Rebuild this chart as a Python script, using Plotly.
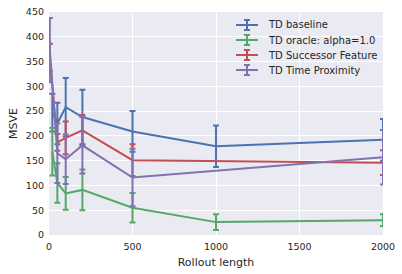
import plotly.graph_objects as go

# Rollout lengths for each method
x_baseline = [20, 50, 100, 200, 500, 1000, 2000]
y_baseline = [247, 225, 258, 238, 209, 179, 192]
e_baseline = [38, 42, 59, 55, 41, 42, 42]

x_oracle = [20, 50, 100, 200, 500, 1000, 2000]
y_oracle = [168, 105, 84, 91, 55, 26, 30]
e_oracle = [48, 40, 33, 41, 30, 16, 12]

x_sf = [5, 50, 100, 200, 500, 2000]
y_sf = [359, 187, 196, 211, 151, 146]
e_sf = [27, 17, 33, 31, 32, 25]

x_tp = [5, 50, 100, 200, 500, 2000]
y_tp = [373, 165, 153, 181, 116, 157]
e_tp = [65, 60, 50, 57, 58, 55]

names = ["TD baseline", "TD oracle: alpha=1.0", "TD Successor Feature", "TD Time Proximity"]
colors = ["#4C72B0", "#55A868", "#C44E52", "#8172B2"]
series = [(x_baseline, y_baseline, e_baseline), (x_oracle, y_oracle, e_oracle),
          (x_sf, y_sf, e_sf), (x_tp, y_tp, e_tp)]

W, H = 402, 274
L, R, T, B = 49, 19, 12, 39
PW, PH = W - L - R, H - T - B

def px(x):
    return (x - L) / PW

def py(y):
    return (H - B - y) / PH

fig = go.Figure()
for (xs, ys, es), n, c in zip(series, names, colors):
    fig.add_trace(go.Scatter(
        x=xs, y=ys, name=n, mode="lines", showlegend=False, hoverinfo="skip",
        line=dict(color=c, width=2),
        error_y=dict(type="data", array=es, visible=True, color=c, thickness=2, width=3),
    ))

font_color = "#262626"

# manual legend (matplotlib style, with error-bar glyph)
shapes, annotations = [], []
for i, (n, c) in enumerate(zip(names, colors)):
    yy = 25 + 15 * i
    shapes.append(dict(type="line", xref="paper", yref="paper", x0=px(236), x1=px(258),
                       y0=py(yy), y1=py(yy), line=dict(color=c, width=2)))
    shapes.append(dict(type="line", xref="paper", yref="paper", x0=px(247), x1=px(247),
                       y0=py(yy - 5), y1=py(yy + 5), line=dict(color=c, width=2)))
    for d in (-5, 5):
        shapes.append(dict(type="line", xref="paper", yref="paper", x0=px(244), x1=px(250),
                           y0=py(yy + d), y1=py(yy + d), line=dict(color=c, width=2)))
    annotations.append(dict(xref="paper", yref="paper", x=px(266), y=py(yy), text=n,
                            showarrow=False, xanchor="left", yanchor="middle",
                            font=dict(size=10, color=font_color)))

fig.update_layout(
    width=W, height=H,
    margin=dict(l=L, r=R, t=T, b=B),
    paper_bgcolor="white", plot_bgcolor="#EAEAF2",
    font=dict(family="DejaVu Sans", color=font_color, size=10),
    showlegend=False,
    shapes=shapes, annotations=annotations,
    xaxis=dict(range=[0, 2000], tickvals=[0, 500, 1000, 1500, 2000], automargin=False,
               showgrid=True, gridcolor="white", gridwidth=1, zeroline=False,
               showline=False, ticks="", tickfont=dict(size=9.5), ticklabelstandoff=4,
               title=dict(text="Rollout length", font=dict(size=11), standoff=7)),
    yaxis=dict(range=[0, 450], tickvals=list(range(0, 451, 50)), automargin=False,
               showgrid=True, gridcolor="white", gridwidth=1, zeroline=False,
               showline=False, ticks="", tickfont=dict(size=9.5), ticklabelstandoff=4,
               title=dict(text="MSVE", font=dict(size=11), standoff=6)),
)

fig.write_html("out.html", config={"displayModeBar": False},
               post_script="document.body.style.margin='0';")
